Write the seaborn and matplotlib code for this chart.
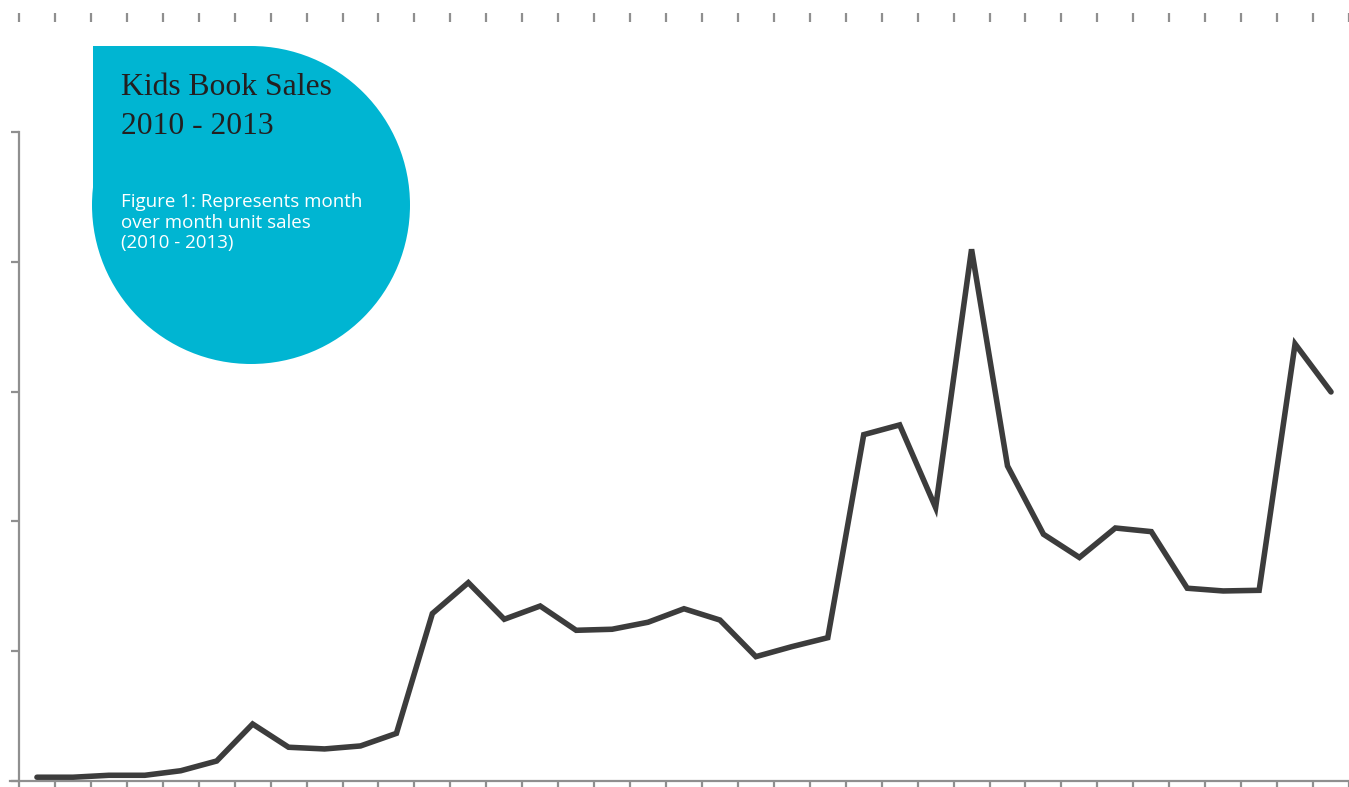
import matplotlib
matplotlib.use("Agg")
import matplotlib.pyplot as plt
import matplotlib.patches as mpatches
import seaborn as sns
import pandas as pd

# ---- data ----
months = [f"{y}-{m:02d}" for y in (2010, 2011, 2012) for m in range(1, 13)] + ["2013-01"]
unit_sales = [29, 29, 44, 44, 79, 154, 439, 260, 247, 270, 367, 1290,
              1528, 1246, 1348, 1161, 1169, 1223, 1327, 1240, 958, 1035, 1104, 2668,
              2743, 2106, 4096, 2427, 1901, 1722, 1949, 1921, 1485, 1464, 1469, 3367,
              2997]
y_ticks = [0, 1000, 2000, 3000, 4000, 5000]
title_lines = ["Kids Book Sales", "2010 - 2013"]
caption_lines = ["Figure 1: Represents month", "over month unit sales", "(2010 - 2013)"]

df = pd.DataFrame({"idx": range(len(months)), "month": months, "sales": unit_sales})

sns.set_style("white")
plt.rcParams["font.family"] = ["DejaVu Sans"]

W, H = 1349, 787
fig = plt.figure(figsize=(W / 100, H / 100), dpi=100)
fig.patch.set_facecolor("white")

# axes placement (pixels -> figure fraction)
ax_left_px, ax_right_px, ax_top_px, ax_bot_px = 10, 1349, 22, 781
ax = fig.add_axes([ax_left_px / W, (H - ax_bot_px) / H,
                   (ax_right_px - ax_left_px) / W, (ax_bot_px - ax_top_px) / H])
ax.set_facecolor("none")

sns.lineplot(data=df, x="idx", y="sales", ax=ax, color="#3c3c3c", linewidth=4.0,
             solid_capstyle="round", solid_joinstyle="miter")

ax.set_xlim(-0.75, 36.35)
ax.set_ylim(0, 5847)
axis_col = "#8f8f8f"
ax.set_xticks([i - 0.5 for i in range(len(months) + 1)])
ax.set_xticklabels([])
ax.set_yticks(y_ticks)
ax.set_yticklabels([])
ax.set_xlabel("")
ax.set_ylabel("")
ax.tick_params(axis="x", top=True, bottom=True, direction="out", length=6.5,
               width=1.6, color=axis_col)
ax.tick_params(axis="y", left=True, direction="out", length=6.0, width=1.6, color=axis_col)
for s in ("top", "right"):
    ax.spines[s].set_visible(False)
ax.spines["left"].set_position(("data", -0.5))
ax.spines["left"].set_bounds(0, 5000)
ax.spines["left"].set_color(axis_col)
ax.spines["left"].set_linewidth(1.6)
ax.spines["bottom"].set_color(axis_col)
ax.spines["bottom"].set_linewidth(1.6)

# teardrop badge (pixel coordinates)
cx, cy, r = 251, 205, 159
col = "#00b5d2"
def px(x, y):
    return x / W, 1 - y / H
circ = mpatches.Ellipse(px(cx, cy), 2 * r / W, 2 * r / H, transform=fig.transFigure,
                        facecolor=col, edgecolor="none", zorder=2)
rect = mpatches.Rectangle(px(93, cy), (cx - 93) / W, (cy - 46) / H,
                          transform=fig.transFigure, facecolor=col, edgecolor="none", zorder=2)
fig.add_artist(circ)
fig.add_artist(rect)

for line, yb in zip(title_lines, (95, 134)):
    fig.text(*px(121, yb), line, family="Liberation Serif", fontsize=22.8,
             color="#231f20", va="baseline", ha="left", zorder=3)
for line, yb in zip(caption_lines, (207, 228, 248)):
    fig.text(*px(121, yb), line, family="Open Sans", fontsize=13.5,
             color="white", va="baseline", ha="left", zorder=3)

fig.savefig("out.png", dpi=100)
